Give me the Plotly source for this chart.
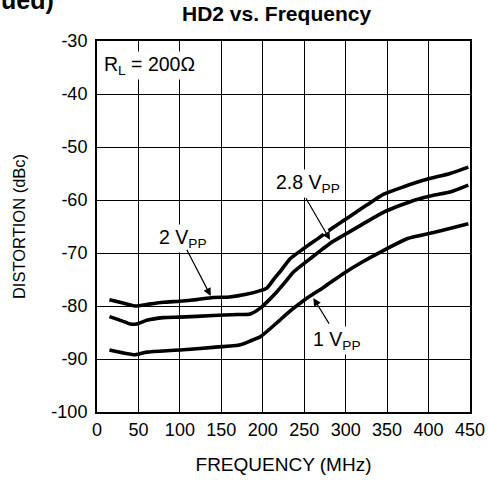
import plotly.graph_objects as go

# ---- data ----
freq_2v = [15, 30, 46, 60, 80, 100, 120, 140, 160, 180, 197, 205, 215, 222, 233, 249, 269, 285, 305, 325, 346, 370, 398, 426, 448]
hd2_2v = [-78.8, -79.4, -80.0, -79.7, -79.3, -79.1, -78.8, -78.4, -78.3, -77.8, -77.1, -76.6, -74.6, -73.3, -71.1, -69.2, -67.0, -65.2, -63.1, -61.0, -58.9, -57.5, -56.1, -55.0, -53.8]

freq_28v = [15, 30, 40, 48, 60, 80, 100, 140, 170, 185, 197, 208, 217, 228, 237, 257, 281, 297, 320, 346, 366, 386, 406, 426, 448]
hd2_28v = [-82.0, -82.8, -83.4, -83.4, -82.7, -82.2, -82.1, -81.8, -81.6, -81.5, -80.4, -78.8, -77.3, -75.3, -73.6, -71.1, -68.2, -66.7, -64.6, -62.3, -61.0, -59.9, -59.1, -58.5, -57.2]

freq_1v = [15, 30, 46, 60, 88, 100, 140, 173, 185, 197, 208, 221, 235, 249, 275, 297, 320, 346, 374, 410, 448]
hd2_1v = [-88.3, -88.8, -89.2, -88.7, -88.4, -88.3, -87.8, -87.3, -86.6, -85.8, -84.4, -82.6, -80.7, -79.0, -76.3, -73.9, -71.7, -69.5, -67.3, -66.0, -64.5]

x_ticks = [0, 50, 100, 150, 200, 250, 300, 350, 400, 450]
y_ticks = [-30, -40, -50, -60, -70, -80, -90, -100]

FONT = "Liberation Sans, Arial, sans-serif"

fig = go.Figure()
for xs, ys, name in [(freq_2v, hd2_2v, "2 VPP"), (freq_28v, hd2_28v, "2.8 VPP"), (freq_1v, hd2_1v, "1 VPP")]:
    fig.add_trace(go.Scatter(x=xs, y=ys, mode="lines", name=name,
                             line=dict(color="black", width=3.6, shape="spline", smoothing=0.6),
                             showlegend=False, hoverinfo="skip"))

LBL = dict(size=19.5, family=FONT, color="black")
annotations = [
    # title and cut-off header
    dict(text="<b>HD2 vs. Frequency</b>", xref="paper", yref="paper", x=0.48, y=1.0728,
         xanchor="center", yanchor="middle", showarrow=False, font=dict(size=21, family=FONT, color="black")),
    dict(text="<b>ued)</b>", xref="paper", yref="paper", x=-0.262, y=1.0687,
         xanchor="left", yanchor="bottom", showarrow=False, font=dict(size=25, family=FONT, color="black")),
    # labels inside plot
    dict(text="R<sub>L</sub> = 200Ω", x=6, y=-34.7, xanchor="left", yanchor="middle", showarrow=False,
         bgcolor="white", font=LBL),
    dict(text="2 V<sub>PP</sub>", x=102.6, y=-67.2, xanchor="center", yanchor="middle", showarrow=False,
         bgcolor="white", font=LBL),
    dict(text="2.8 V<sub>PP</sub>", x=254.6, y=-56.8, xanchor="center", yanchor="middle", showarrow=False,
         bgcolor="white", font=LBL),
    dict(text="1 V<sub>PP</sub>", x=288.4, y=-86.5, xanchor="center", yanchor="middle", showarrow=False,
         bgcolor="white", font=LBL),
    # white gap where the 2.8 V arrow crosses the upper curve
    dict(text="", x=277.0, y=-66.3, ax=262.0, ay=-62.5, axref="x", ayref="y", showarrow=True,
         arrowhead=0, arrowwidth=6, arrowcolor="white"),
    # arrows
    dict(text="", x=137.2, y=-78.1, ax=107.4, ay=-69.1, axref="x", ayref="y", showarrow=True,
         arrowhead=2, arrowsize=1.3, arrowwidth=1.2, arrowcolor="black"),
    dict(text="", x=281.1, y=-67.5, ax=251.0, ay=-59.4, axref="x", ayref="y", showarrow=True,
         arrowhead=2, arrowsize=1.3, arrowwidth=1.2, arrowcolor="black"),
    dict(text="", x=261.0, y=-78.5, ax=281.1, ay=-83.6, axref="x", ayref="y", showarrow=True,
         arrowhead=2, arrowsize=1.3, arrowwidth=1.2, arrowcolor="black"),
]

fig.update_layout(
    width=488, height=480,
    margin=dict(l=97, r=18, t=41, b=68, autoexpand=False),
    paper_bgcolor="white", plot_bgcolor="white",
    font=dict(family=FONT, size=18, color="black"),
    annotations=annotations,
)
fig.update_xaxes(range=[0, 450], tickvals=x_ticks, ticktext=[str(v) for v in x_ticks],
                 showgrid=True, gridcolor="black", gridwidth=1, automargin=False,
                 showline=True, linecolor="black", linewidth=2, mirror=True,
                 ticks="", zeroline=False, tickfont=dict(size=18), ticklabelstandoff=0,
                 title=dict(text="FREQUENCY (MHz)", font=dict(size=19), standoff=19))
fig.update_yaxes(range=[-100, -30], tickvals=y_ticks, ticktext=[str(v) for v in y_ticks],
                 showgrid=True, gridcolor="black", gridwidth=1, automargin=False,
                 showline=True, linecolor="black", linewidth=2, mirror=True,
                 ticks="", zeroline=False, tickfont=dict(size=18), ticklabelstandoff=4,
                 title=dict(text="DISTORTION (dBc)", font=dict(size=16.5), standoff=22))

fig.write_html("out.html", config={"displayModeBar": False},
               post_script="document.body.style.margin='0';")
